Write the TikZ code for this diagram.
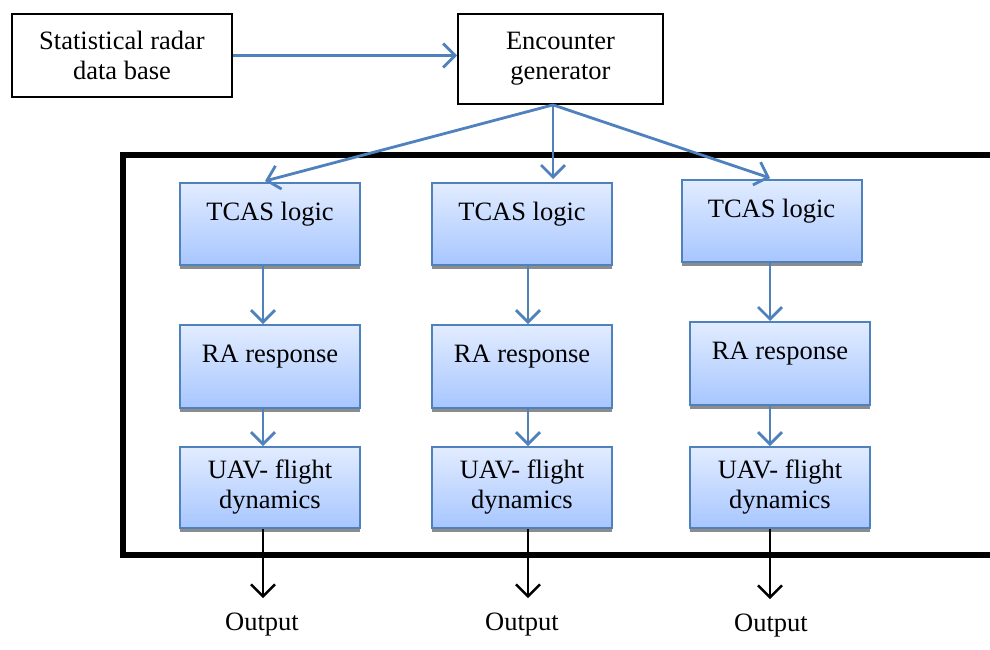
\documentclass[tikz,border=0pt]{standalone}
\usepackage{fontspec}
\setmainfont{Liberation Serif}
\usetikzlibrary{arrows.meta, positioning, shadows}
\definecolor{edgeblue}{HTML}{4F81BD}
\definecolor{topblue}{HTML}{E2ECFF}
\definecolor{botblue}{HTML}{A7C6FF}
\tikzset{plain/.style={draw=black, line width=1.8pt, fill=white, align=center}}
\tikzset{unit/.style={draw=edgeblue, line width=2pt, top color=topblue, bottom color=botblue,
    minimum width=180pt, drop shadow={shadow xshift=0pt, shadow yshift=-4pt, fill=black!45, opacity=1}}}
\tikzset{flow/.style={draw=edgeblue, line width=2.8pt, -{Straight Barb[length=12pt, width=24pt, line width=2.8pt]}}}
\tikzset{outflow/.style={draw=black, line width=2.6pt, -{Straight Barb[length=12pt, width=24pt, line width=2.6pt]}}}

\begin{document}
\begin{tikzpicture}[x=1pt, y=-1pt, font=\fontsize{26.5}{30}\selectfont]
    \clip (0,0) rectangle (990,649);
    \fill[white] (0,0) rectangle (990,649);

    % top row
    \node[plain, minimum width=220pt, minimum height=83pt] (stat) at (122,55.5) {Statistical radar\\data base};
    \node[plain, minimum width=205pt, minimum height=90pt] (enc) at (560.5,59) {Encounter\\generator};
    \draw[flow] (stat.east) -- (stat.east -| enc.west);

    % simulation frame
    \draw[line width=5.5pt] (123,155) rectangle (1010,555);

    % columns
    \node[unit, minimum height=82pt, text depth=26pt] (tcasA) at (270,224) {TCAS logic};
    \node[unit, minimum height=83pt, text depth=26pt] (raA) at (270,366.5) {RA response};
    \node[unit, minimum height=81pt, align=center] (uavA) at (270,487.5) {UAV- flight\\dynamics};

    \node[unit, minimum height=82pt, text depth=26pt] (tcasB) at (522,224) {TCAS logic};
    \node[unit, minimum height=83pt, text depth=26pt] (raB) at (522,366.5) {RA response};
    \node[unit, minimum height=81pt, align=center] (uavB) at (522,487.5) {UAV- flight\\dynamics};

    \node[unit, minimum height=82pt, text depth=26pt] (tcasC) at (771.5,221) {TCAS logic};
    \node[unit, minimum height=83pt, text depth=26pt] (raC) at (780,363.5) {RA response};
    \node[unit, minimum height=81pt, align=center] (uavC) at (780,487.5) {UAV- flight\\dynamics};

    % generator to logic
    \coordinate (encS) at ([xshift=-7.5pt]enc.south);
    \draw[flow] (encS) -- ([xshift=-5pt, yshift=1pt]tcasA.north);
    \draw[flow] (encS) -- ([yshift=3pt]encS |- tcasB.north);
    \draw[flow] (encS) -- ([xshift=-1.5pt, yshift=1pt]tcasC.north);

    % inside columns
    \draw[flow] ([xshift=-7pt]tcasA.south) -- ([xshift=-7pt]raA.north);
    \draw[flow] ([xshift=-7pt]raA.south) -- ([xshift=-7pt]uavA.north);
    \draw[flow] ([xshift=6pt]tcasB.south) -- ([xshift=6pt]raB.north);
    \draw[flow] ([xshift=6pt]raB.south) -- ([xshift=6pt]uavB.north);
    \draw[flow] ([xshift=-1.5pt]tcasC.south) -- ([xshift=-1.5pt]tcasC.south |- raC.north);
    \draw[flow] ([xshift=-10pt]raC.south) -- ([xshift=-10pt]uavC.north);

    % outputs
    \node[inner sep=4pt] (outA) at (262,625) {Output};
    \node[inner sep=4pt] (outB) at (522,625) {Output};
    \node[inner sep=4pt] (outC) at (771,626) {Output};
    \draw[outflow, shorten >=11pt] ([xshift=-7pt]uavA.south) -- ([xshift=-7pt]uavA.south |- outA.north);
    \draw[outflow, shorten >=11pt] ([xshift=6pt]uavB.south) -- ([xshift=6pt]uavB.south |- outB.north);
    \draw[outflow, shorten >=11pt] ([xshift=-10pt]uavC.south) -- ([xshift=-10pt]uavC.south |- outC.north);
\end{tikzpicture}
\end{document}
